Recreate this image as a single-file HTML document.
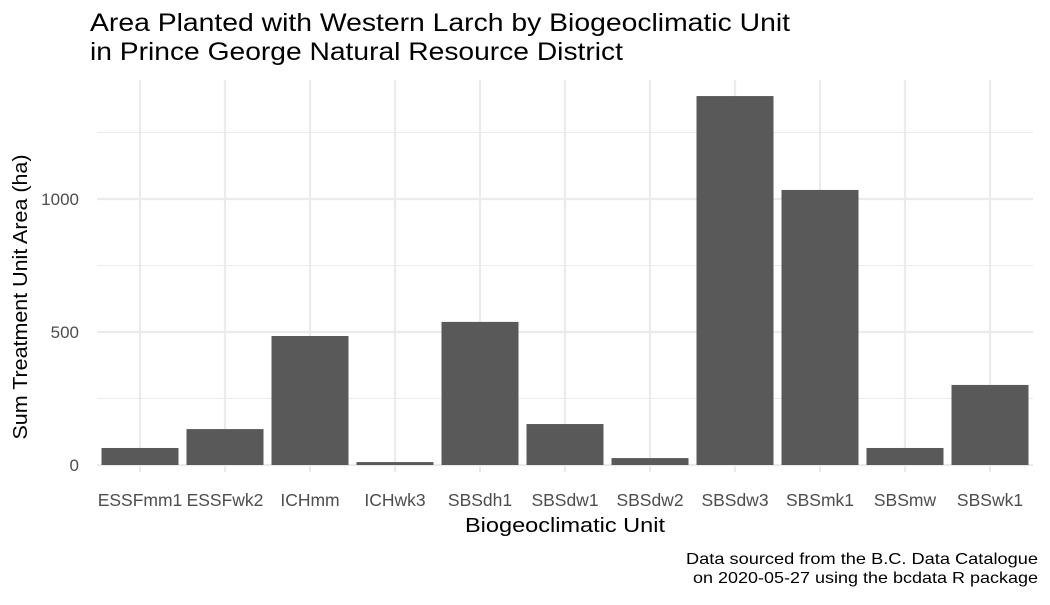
<!DOCTYPE html>
<html><head><meta charset="utf-8"><style>
body{margin:0;background:#fff;}
svg text{font-family:"Liberation Sans",sans-serif;}
</style></head><body>
<svg id="chart" width="1050" height="600" viewBox="0 0 1050 600">
<text x="90" y="31" font-size="25" textLength="700" lengthAdjust="spacingAndGlyphs" fill="#000">Area Planted with Western Larch by Biogeoclimatic Unit</text>
<text x="90" y="60" font-size="25" textLength="533" lengthAdjust="spacingAndGlyphs" fill="#000">in Prince George Natural Resource District</text>
<g id="grid"></g><g id="bars"></g><g id="xt"></g><g id="yt"></g>
<text x="565" y="532" font-size="20" textLength="200" lengthAdjust="spacingAndGlyphs" text-anchor="middle" fill="#000">Biogeoclimatic Unit</text>
<text transform="translate(27,297) rotate(-90)" font-size="20" textLength="285" lengthAdjust="spacingAndGlyphs" text-anchor="middle" fill="#000">Sum Treatment Unit Area (ha)</text>
<text x="1038" y="564" font-size="16" textLength="352" lengthAdjust="spacingAndGlyphs" text-anchor="end" fill="#000">Data sourced from the B.C. Data Catalogue</text>
<text x="1038" y="583" font-size="16" textLength="345" lengthAdjust="spacingAndGlyphs" text-anchor="end" fill="#000">on 2020-05-27 using the bcdata R package</text>
</svg>
<script>
const categories=["ESSFmm1","ESSFwk2","ICHmm","ICHwk3","SBSdh1","SBSdw1","SBSdw2","SBSdw3","SBSmk1","SBSmw","SBSwk1"];
const areas=[64,135,485,11,538,154,26,1387,1034,64,301];
const yTicks=[0,500,1000];
const yMinor=[250,750,1250];
const NS="http://www.w3.org/2000/svg";
const x=i=>140+i*85;
const y=v=>465-v*0.266;
function mk(tag,attrs,parent){const e=document.createElementNS(NS,tag);for(const k in attrs)e.setAttribute(k,attrs[k]);document.getElementById(parent).appendChild(e);return e;}
yMinor.forEach(v=>{const l=mk("line",{x1:97,x2:1033,y1:y(v),y2:y(v),stroke:"#ebebeb","stroke-width":1.1},"grid");

});
yTicks.forEach(v=>{const l=mk("line",{x1:97,x2:1033,y1:y(v),y2:y(v),stroke:"#ebebeb","stroke-width":2.2},"grid");


const t=mk("text",{x:79,y:y(v)+6,"font-size":17,"text-anchor":"end",fill:"#4d4d4d"},"yt");t.textContent=v;

});
categories.forEach((c,i)=>{const l=mk("line",{x1:x(i),x2:x(i),y1:80,y2:472,stroke:"#ebebeb","stroke-width":2.2},"grid");


const r=mk("rect",{x:x(i)-38.5,width:77,y:y(areas[i]),height:465-y(areas[i]),fill:"#595959"},"bars");


const t=mk("text",{x:x(i),y:506,"font-size":17.5,"text-anchor":"middle",fill:"#4d4d4d"},"xt");t.textContent=c;

});
</script>
</body></html>
